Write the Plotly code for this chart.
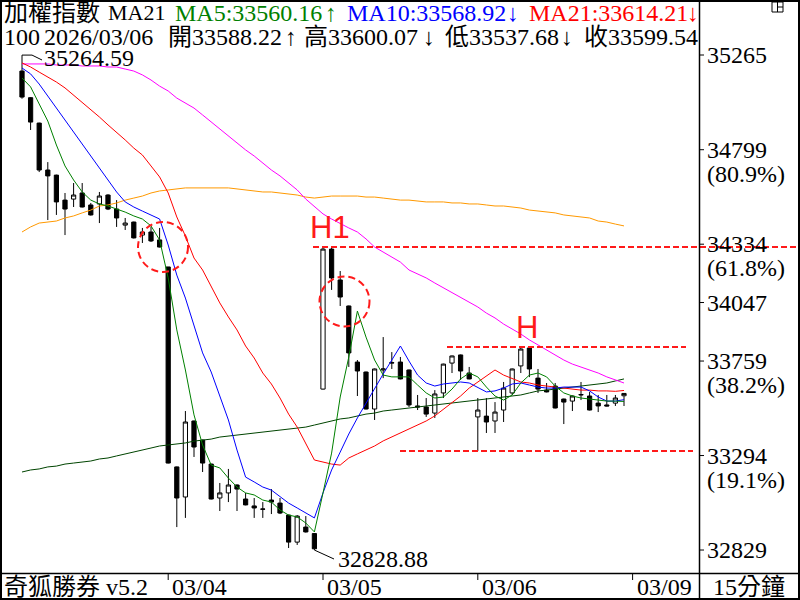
import plotly.graph_objects as go

# ---------------- data (15-minute bars, 加權指數) ----------------
bar_open = [35186, 35055, 34930, 34699, 34674, 34551, 34556, 34586, 34527, 34532,
            34576, 34507, 34428, 34443, 34379, 34394, 34355, 34222, 33238, 33090,
            33464, 33370, 33252, 33085, 33110, 33149, 33080, 33046, 33031, 33075,
            33060, 33001, 32868, 32942, 32910, 33621, 34310, 34158, 34030, 33754,
            33705, 33523, 33715, 33749, 33754, 33715, 33538, 33533, 33503, 33602,
            33749, 33789, 33700, 33484, 33488, 33464, 33518, 33602, 33735, 33823,
            33675, 33616, 33636, 33572, 33562, 33592, 33587, 33552, 33543, 33552,
            33588.22]
bar_high = [35264.59, 35058, 34932, 34738, 34676, 34586, 34635, 34635, 34537, 34591,
            34580, 34551, 34463, 34445, 34414, 34419, 34414, 34222, 33240, 33513,
            33466, 33372, 33254, 33159, 33228, 33152, 33110, 33085, 33065, 33129,
            33085, 33003, 33001, 32996, 32912, 34320, 34318, 34202, 34032, 33764,
            33707, 33722, 33877, 33803, 33779, 33717, 33592, 33577, 33616, 33746,
            33786, 33791, 33730, 33577, 33577, 33557, 33656, 33722, 33828, 33828,
            33720, 33651, 33651, 33574, 33589, 33656, 33607, 33592, 33592, 33592,
            33600.07]
bar_low = [35050, 34896, 34689, 34453, 34478, 34379, 34517, 34515, 34475, 34438,
           34502, 34419, 34404, 34362, 34340, 34345, 34318, 33255, 32942, 32987,
           33287, 33213, 33078, 33021, 33065, 33021, 33049, 32987, 32987, 33006,
           33006, 32839, 32854, 32915, 32828.88, 33619, 34109, 34030, 33730, 33587,
           33521, 33469, 33675, 33720, 33669, 33533, 33518, 33484, 33479, 33577,
           33700, 33666, 33669, 33316, 33405, 33405, 33459, 33592, 33700, 33680,
           33602, 33605, 33526, 33449, 33513, 33567, 33516, 33508, 33536, 33538,
           33537.68]
bar_close = [35058, 34935, 34699, 34670, 34542, 34507, 34576, 34517, 34478, 34571,
             34507, 34463, 34438, 34365, 34394, 34350, 34320, 33257, 33085, 33459,
             33336, 33257, 33080, 33110, 33149, 33129, 33051, 33036, 33030, 33065,
             33011, 32868, 32996, 32918, 32835, 34310, 34168, 34074, 33799, 33710,
             33523, 33720, 33720, 33751, 33671, 33543, 33533, 33498, 33597, 33744,
             33784, 33710, 33671, 33518, 33459, 33508, 33626, 33720, 33818, 33720,
             33621, 33607, 33528, 33557, 33587, 33594, 33518, 33538, 33538, 33577,
             33599.54]

ma5 = [35152, 35108, 35024, 34940, 34822, 34719, 34650, 34591, 34551, 34532,
       34522, 34507, 34492, 34473, 34458, 34424, 34355, 34168, 33912, 33715,
       33494, 33346, 33247, 33233, 33183, 33139, 33110, 33100, 33075, 33065,
       33026, 33001, 32992, 32962, 32918, 33110, 33306, 33582, 33779, 34005,
       33877, 33764, 33690, 33681, 33681, 33681, 33641, 33602, 33577, 33582,
       33621, 33671, 33700, 33681, 33631, 33587, 33567, 33592, 33651, 33690,
       33700, 33681, 33636, 33602, 33587, 33577, 33572, 33567, 33562, 33562,
       33560.16]
ma10 = [35201, 35172, 35122, 35063, 35004, 34945, 34886, 34827, 34768, 34709,
        34650, 34591, 34542, 34517, 34497, 34478, 34458, 34330, 34182, 34069,
        33936, 33799, 33705, 33592, 33469, 33321, 33188, 33164, 33139, 33124,
        33090, 33060, 33036, 33011, 32987, 33110, 33223, 33311, 33400, 33479,
        33553, 33626, 33695, 33764, 33833, 33759, 33690, 33651, 33636, 33646,
        33651, 33656, 33651, 33631, 33607, 33612, 33626, 33646, 33651, 33641,
        33631, 33626, 33626, 33631, 33631, 33631, 33612, 33582, 33562, 33562,
        33568.92]
ma21 = [35226, 35206, 35181, 35157, 35132, 35103, 35068, 35034, 34999, 34960,
        34921, 34886, 34847, 34807, 34773, 34719, 34665, 34586, 34468, 34374,
        34266, 34207, 34128, 34045, 33976, 33912, 33833, 33774, 33700, 33646,
        33577, 33498, 33434, 33351, 33272, 33262, 33252, 33247, 33282, 33302,
        33321, 33341, 33366, 33385, 33405, 33425, 33444, 33464, 33489, 33523,
        33553, 33587, 33626, 33656, 33685, 33715, 33690, 33671, 33656, 33651,
        33641, 33636, 33631, 33626, 33621, 33616, 33616, 33612, 33612, 33610,
        33614.21]
ma_magenta = [35221, 35221, 35221, 35221, 35216, 35216, 35216, 35211, 35211, 35211,
              35206, 35206, 35196, 35186, 35167, 35142, 35112, 35088, 35053, 35029,
              35004, 34970, 34935, 34901, 34866, 34832, 34798, 34768, 34734, 34699,
              34670, 34635, 34601, 34556, 34517, 34483, 34458, 34438, 34414, 34394,
              34360, 34320, 34296, 34271, 34246, 34207, 34187, 34168, 34143, 34119,
              34094, 34069, 34045, 34025, 33995, 33971, 33941, 33917, 33892, 33863,
              33838, 33813, 33789, 33764, 33744, 33730, 33715, 33700, 33681, 33666,
              33651]
ma_orange = [34394, 34419, 34438, 34443, 34448, 34463, 34473, 34488, 34502, 34522,
             34527, 34537, 34551, 34561, 34571, 34586, 34596, 34601, 34606, 34611,
             34611, 34611, 34611, 34611, 34611, 34606, 34601, 34596, 34591, 34591,
             34586, 34581, 34576, 34566, 34561, 34566, 34571, 34571, 34571, 34571,
             34566, 34566, 34561, 34556, 34551, 34551, 34547, 34542, 34542, 34542,
             34537, 34537, 34532, 34532, 34527, 34522, 34522, 34517, 34512, 34502,
             34497, 34492, 34488, 34478, 34473, 34468, 34463, 34448, 34443, 34433,
             34424]
ma_dkgreen = [33213, 33223, 33228, 33238, 33242, 33252, 33257, 33262, 33267, 33277,
              33282, 33292, 33301, 33311, 33321, 33331, 33341, 33346, 33351, 33356,
              33365, 33370, 33375, 33385, 33390, 33395, 33400, 33405, 33410, 33415,
              33420, 33424, 33429, 33434, 33444, 33454, 33464, 33474, 33479, 33488,
              33498, 33503, 33513, 33518, 33523, 33528, 33533, 33538, 33543, 33548,
              33552, 33557, 33562, 33567, 33572, 33577, 33582, 33587, 33592, 33602,
              33612, 33616, 33621, 33626, 33631, 33636, 33641, 33646, 33651, 33661,
              33671]

day_labels = ["03/04", "03/05", "03/06", "03/09"]
day_first_bar = [17, 35, 53, 71]
axis_levels = [35265, 34799, 34334, 34047, 33759, 33294, 32829]
axis_pcts = ["", "(80.9%)", "(61.8%)", "", "(38.2%)", "(19.1%)", ""]
swing_high, swing_high_bar = 35264.59, 0
swing_low, swing_low_bar = 32828.88, 34
h1_level = 34320
h_level = 33828
support_level = 33316
header_date = "2026/03/06"
header_index = "100"

# ---------------- geometry helpers ----------------
W, H = 800, 600
PL, PR, PT, PB = 1, 699, 50, 573          # plot area in pixels
XR = [(PL - 22) / 8.6, (PR - 22) / 8.6]  # bar index range
YR = [35535.7 - 4.921 * PB, 35535.7 - 4.921 * PT]


def px(xp):
    return (xp - PL) / (PR - PL)


def py(yp):
    return (PB - yp) / (PB - PT)


def xd(xp):
    return (xp - 22) / 8.6


def yd(yp):
    return 35535.7 - 4.921 * yp


FONT = "Liberation Serif, 'Noto Sans CJK TC', serif"
idx = list(range(len(bar_close)))

fig = go.Figure()
fig.add_trace(go.Candlestick(
    x=idx, open=bar_open, high=bar_high, low=bar_low, close=bar_close,
    increasing=dict(line=dict(color="black", width=1), fillcolor="white"),
    decreasing=dict(line=dict(color="black", width=1), fillcolor="black"),
    whiskerwidth=0, showlegend=False, hoverinfo="skip"))

for series, color in [(ma_dkgreen, "#004400"), (ma_orange, "#ff9900"),
                      (ma_magenta, "#ff00ff"), (ma21, "#ff0000"),
                      (ma10, "#0000ff"), (ma5, "#008000")]:
    fig.add_trace(go.Scatter(x=idx, y=series, mode="lines",
                             line=dict(color=color, width=1),
                             showlegend=False, hoverinfo="skip"))

ann = []
shapes = []


def text(xp, yp, s, color="black", size=24, anchor="left", family=FONT):
    ann.append(dict(x=px(xp), y=py(yp), xref="paper", yref="paper",
                    text=s, showarrow=False, xanchor=anchor, yanchor="middle",
                    font=dict(family=family, size=size, color=color)))


def arrow(xc, yp, s, color="black"):
    text(xc, yp, s, color, size=24, anchor="center")


# header line 1
text(2, 13, "加權指數")
text(106, 13, "MA21", size=22)
text(173, 13, f"MA5:{ma5[-1]:.2f}", "#008000")
arrow(331, 13, "↑", "#008000")
text(345, 13, f"MA10:{ma10[-1]:.2f}", "#0000ff")
arrow(513, 13, "↓", "#0000ff")
text(527, 13, f"MA21:{ma21[-1]:.2f}", "#ff0000")
arrow(693, 13, "↓", "#ff0000")
# header line 2
text(2, 37, header_index)
text(42, 37, header_date)
text(166, 37, f"開{bar_open[-1]:.2f}")
arrow(291, 37, "↑")
text(302, 37, f"高{bar_high[-1]:.2f}")
arrow(429, 37, "↓")
text(443, 37, f"低{bar_low[-1]:.2f}")
arrow(567, 37, "↓")
text(582, 37, f"收{bar_close[-1]:.2f}")

# right axis labels
for lv, pc in zip(axis_levels, axis_pcts):
    ann.append(dict(x=px(705), y=lv, xref="paper", yref="y", text=str(lv),
                    showarrow=False, xanchor="left", yanchor="middle",
                    font=dict(family=FONT, size=24, color="black")))
    shapes.append(dict(type="line", xref="paper", yref="y", x0=px(699), x1=px(704),
                       y0=lv, y1=lv, line=dict(color="black", width=1)))
    if pc:
        ann.append(dict(x=px(705), y=lv, xref="paper", yref="y", text=pc, yshift=-24,
                        showarrow=False, xanchor="left", yanchor="middle",
                        font=dict(family=FONT, size=24, color="black")))

# bottom band
text(2, 587, "奇狐勝券 v5.2")
for lab, b in zip(day_labels, day_first_bar):
    ann.append(dict(x=b, y=py(587), xref="x", yref="paper", text=lab, xshift=2,
                    showarrow=False, xanchor="left", yanchor="middle",
                    font=dict(family=FONT, size=24, color="black")))
    shapes.append(dict(type="line", xref="x", yref="paper", x0=b, x1=b,
                       y0=py(574), y1=py(580), line=dict(color="black", width=1)))
text(749, 587, "15分鐘", anchor="center")

# extreme labels
text(42, 58, f"{swing_high:.2f}")
shapes.append(dict(type="path", xref="x", yref="y",
                   path=f"M {swing_high_bar},{swing_high} L {xd(32)},{swing_high} L {xd(42)},{yd(60)}",
                   line=dict(color="black", width=1)))
text(336, 559, f"{swing_low:.2f}")
shapes.append(dict(type="line", xref="x", yref="y", x0=swing_low_bar, y0=swing_low,
                   x1=xd(334), y1=yd(559), line=dict(color="black", width=1)))

# user drawings (red dashed)
RED = "#ff1a1a"
DASH = "6px,3px"
shapes.append(dict(type="line", xref="paper", yref="y", x0=px(313), x1=px(800),
                   y0=h1_level, y1=h1_level, line=dict(color=RED, width=2, dash=DASH)))
shapes.append(dict(type="line", xref="paper", yref="y", x0=px(447), x1=px(686),
                   y0=h_level, y1=h_level, line=dict(color=RED, width=2, dash=DASH)))
shapes.append(dict(type="line", xref="paper", yref="y", x0=px(400), x1=px(693),
                   y0=support_level, y1=support_level, line=dict(color=RED, width=2, dash=DASH)))
for cx, cy in [(163, 247), (344.5, 301.5)]:
    shapes.append(dict(type="circle", xref="x", yref="y",
                       x0=xd(cx - 25), x1=xd(cx + 25), y0=yd(cy + 25), y1=yd(cy - 25),
                       line=dict(color=RED, width=2, dash="7px,4px")))
ann.append(dict(x=px(330), y=py(227), xref="paper", yref="paper", text="H1",
                showarrow=False, xanchor="center", yanchor="middle",
                font=dict(family="Liberation Sans, Arial", size=31, color=RED)))
ann.append(dict(x=px(527), y=py(327), xref="paper", yref="paper", text="H",
                showarrow=False, xanchor="center", yanchor="middle",
                font=dict(family="Liberation Sans, Arial", size=31, color=RED)))

# frame
shapes.append(dict(type="rect", xref="paper", yref="paper", x0=px(1), x1=px(799),
                   y0=py(599), y1=py(1), line=dict(color="black", width=2)))
shapes.append(dict(type="line", xref="paper", yref="paper", x0=px(699.5), x1=px(699.5),
                   y0=py(0), y1=py(600), line=dict(color="black", width=1.5)))
shapes.append(dict(type="line", xref="paper", yref="paper", x0=px(0), x1=px(800),
                   y0=py(573.5), y1=py(573.5), line=dict(color="black", width=1.5)))
# small window icon (top right)
shapes.append(dict(type="rect", xref="paper", yref="paper", x0=px(772), x1=px(783),
                   y0=py(12), y1=py(2), line=dict(color="black", width=1)))
shapes.append(dict(type="line", xref="paper", yref="paper", x0=px(777.5), x1=px(777.5),
                   y0=py(12), y1=py(2), line=dict(color="black", width=1)))
shapes.append(dict(type="line", xref="paper", yref="paper", x0=px(777.5), x1=px(783),
                   y0=py(7), y1=py(7), line=dict(color="black", width=1)))

fig.update_layout(
    width=W, height=H,
    margin=dict(l=PL, r=W - PR, t=PT, b=H - PB, pad=0),
    paper_bgcolor="white", plot_bgcolor="white",
    xaxis=dict(range=XR, visible=False, rangeslider=dict(visible=False), fixedrange=True),
    yaxis=dict(range=YR, visible=False, fixedrange=True),
    annotations=ann, shapes=shapes, showlegend=False,
)

fig.write_html("out.html", config={"displayModeBar": False},
               post_script="document.body.style.margin='0';document.body.style.overflow='hidden';")
